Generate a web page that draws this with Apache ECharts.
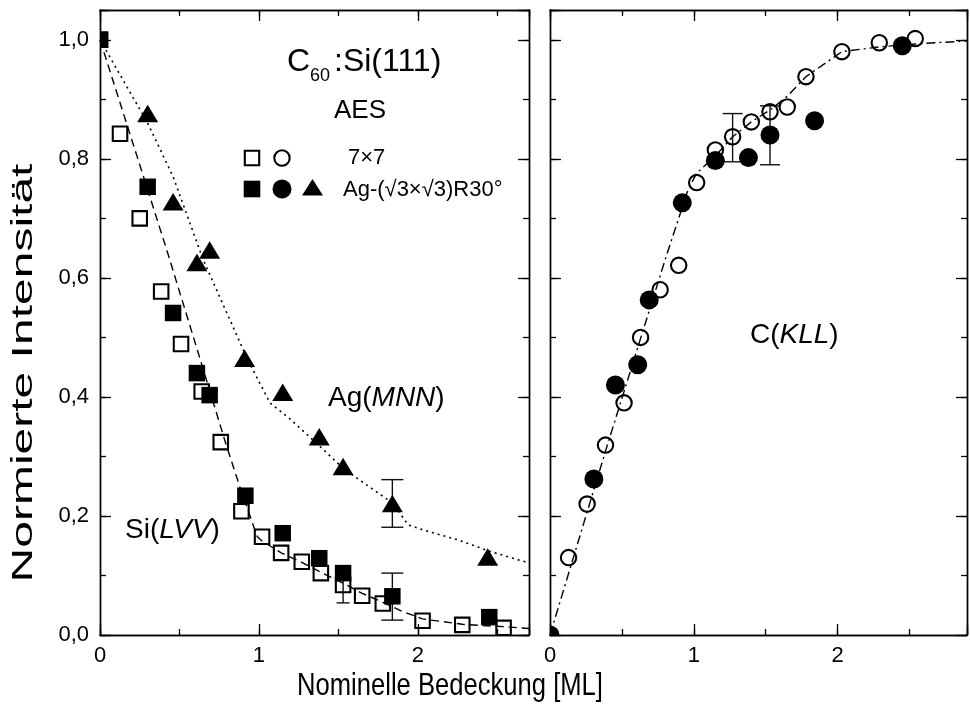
<!DOCTYPE html>
<html>
<head>
<meta charset="utf-8">
<script src="https://cdn.jsdelivr.net/npm/echarts@6/dist/echarts.min.js"></script>
<style>
  html, body { margin: 0; padding: 0; background: #fff; }
  #chart { width: 970px; height: 715px; }
</style>
</head>
<body>
<div id="chart"></div>
<script>
// ---- Si(LVV) signal, left panel ----
// 7x7 surface (open squares): [coverage ML, normalized intensity]
const si77 = [[0, 1.0], [0.126, 0.842], [0.25, 0.70], [0.385, 0.577], [0.51, 0.489], [0.64, 0.409],
  [0.76, 0.324], [0.89, 0.208], [1.02, 0.165], [1.14, 0.138], [1.27, 0.123], [1.39, 0.104],
  [1.53, 0.084], [1.65, 0.066], [1.78, 0.053], [2.03, 0.024], [2.28, 0.017], [2.54, 0.012]];
// Ag-(√3×√3)R30° surface (filled squares)
const siAg = [[0, 1.0], [0.30, 0.753], [0.46, 0.541], [0.61, 0.44], [0.69, 0.403], [0.915, 0.234],
  [1.15, 0.171], [1.38, 0.129], [1.53, 0.104], [1.84, 0.065], [2.45, 0.030]];
// guide curve through the Si(LVV) data (dashed)
const siFit = [[0, 1.0], [0.1, 0.916], [0.2, 0.832], [0.3, 0.748], [0.42, 0.647], [0.6, 0.49],
  [0.79, 0.323], [0.88, 0.249], [0.99, 0.165], [1.02, 0.158], [1.14, 0.138], [1.27, 0.122],
  [1.4, 0.104], [1.53, 0.087], [1.65, 0.07], [1.78, 0.055], [1.9, 0.04], [2.03, 0.027],
  [2.28, 0.018], [2.54, 0.014], [2.7, 0.011]];

// ---- Ag(MNN) signal, left panel (filled triangles) ----
const agMNN = [[0.30, 0.876], [0.46, 0.728], [0.61, 0.626], [0.69, 0.647], [0.91, 0.465],
  [1.15, 0.408], [1.38, 0.333], [1.53, 0.283], [1.84, 0.221], [2.44, 0.131]];
// guide curve (dotted)
const agFit = [[0, 1.0], [0.3, 0.86], [0.46, 0.77], [0.65, 0.63], [0.8, 0.54], [0.93, 0.462],
  [1.07, 0.39], [1.2, 0.362], [1.38, 0.318], [1.53, 0.28], [1.7, 0.248], [1.84, 0.222],
  [1.94, 0.185], [2.04, 0.176], [2.25, 0.16], [2.46, 0.14], [2.7, 0.121]];

// ---- C(KLL) signal, right panel ----
const c77 = [[0, 0], [0.129, 0.13], [0.258, 0.22], [0.386, 0.319], [0.515, 0.39], [0.63, 0.50],
  [0.766, 0.58], [0.895, 0.621], [1.02, 0.76], [1.15, 0.815], [1.27, 0.837], [1.40, 0.862],
  [1.53, 0.879], [1.65, 0.887], [1.78, 0.938], [2.03, 0.980], [2.29, 0.995], [2.54, 1.002]];
const cAg = [[0, 0], [0.305, 0.262], [0.455, 0.42], [0.61, 0.454], [0.69, 0.563], [0.92, 0.726],
  [1.15, 0.797], [1.38, 0.802], [1.53, 0.840], [1.84, 0.864], [2.45, 0.990]];
// guide curve (dash-dot)
const cFit = [[0, 0], [0.2, 0.16], [0.4, 0.32], [0.6, 0.475], [0.8, 0.63], [0.96, 0.748],
  [1.02, 0.776], [1.15, 0.805], [1.27, 0.837], [1.40, 0.862], [1.53, 0.882], [1.65, 0.905],
  [1.78, 0.938], [2.03, 0.98], [2.29, 0.988], [2.54, 0.993], [2.9, 0.998]];

// ---- error bars: [coverage, lower, upper] ----
const errSi77 = [[1.53, 0.054, 0.114]];
const errSiAg = [[1.84, 0.025, 0.104]];
const errAg = [[1.84, 0.181, 0.261]];
const errC77 = [[1.27, 0.795, 0.876]];
const errCAg = [[1.53, 0.790, 0.889]];

// ---- tick labels ----
const xTickLabels = ['0', '1', '2'];
const yTickLabels = ['0,0', '0,2', '0,4', '0,6', '0,8', '1,0'];

const FONT = '"Liberation Sans", Arial, Helvetica, sans-serif';
const chart = echarts.init(document.getElementById('chart'), null, { renderer: 'canvas' });

function pickLabel(list, step) {
  return function (v) {
    const i = Math.round(v / step);
    return (Math.abs(v - i * step) < 1e-6 && i >= 0 && i < list.length) ? list[i] : '';
  };
}

function xAxis(grid, pos, interval, len, max, labels) {
  return {
    type: 'value', gridIndex: grid, position: pos, min: 0, max: max, interval: interval,
    axisLine: { show: true, onZero: false, lineStyle: { color: '#000', width: 1.4 } },
    axisTick: { show: true, inside: true, length: len, lineStyle: { color: '#000', width: 1.3 } },
    axisLabel: labels ? {
      show: true, margin: 10, color: '#000', fontSize: 22, fontFamily: FONT,
      formatter: pickLabel(xTickLabels, 1)
    } : { show: false },
    splitLine: { show: false }
  };
}

function yAxis(grid, pos, interval, len, labels) {
  return {
    type: 'value', gridIndex: grid, position: pos, min: 0, max: 1.05, interval: interval,
    axisLine: { show: true, onZero: false, lineStyle: { color: '#000', width: 1.4 } },
    axisTick: { show: true, inside: true, length: len, lineStyle: { color: '#000', width: 1.3 } },
    axisLabel: labels ? {
      show: true, margin: 11, color: '#000', fontSize: 22, fontFamily: FONT,
      formatter: pickLabel(yTickLabels, 0.2)
    } : { show: false },
    splitLine: { show: false }
  };
}

const xAxes = [];
const yAxes = [];
[[0, 2.7, true], [1, 2.9, false]].forEach(function (g) {
  const gi = g[0], xmax = g[1], isLeft = g[2];
  xAxes.push(xAxis(gi, 'bottom', 1, 11, xmax, true));
  xAxes.push(xAxis(gi, 'bottom', 0.5, 6, xmax, false));
  xAxes.push(xAxis(gi, 'top', 1, 11, xmax, false));
  xAxes.push(xAxis(gi, 'top', 0.5, 6, xmax, false));
  yAxes.push(yAxis(gi, 'left', 0.2, 11, isLeft));
  yAxes.push(yAxis(gi, 'left', 0.1, 6, false));
  yAxes.push(yAxis(gi, 'right', 0.2, 11, false));
  yAxes.push(yAxis(gi, 'right', 0.1, 6, false));
});

// marker drawn through the axis scale; clipped to the plot frame
function markers(data, shape, filled, panel) {
  return {
    type: 'custom', xAxisIndex: panel * 4, yAxisIndex: panel * 4, clip: true,
    z: filled ? 5 : 4, data: data, encode: { x: 0, y: 1 },
    renderItem: function (params, api) {
      const p = api.coord([api.value(0), api.value(1)]);
      const style = filled ? { fill: '#000', stroke: null }
                           : { fill: 'none', stroke: '#000', lineWidth: 2.1 };
      if (shape === 'square') {
        const s = filled ? 16.5 : 14.5;
        return { type: 'rect', shape: { x: p[0] - s / 2, y: p[1] - s / 2, width: s, height: s }, style: style };
      }
      if (shape === 'circle') {
        const r = filled ? 9.5 : 7.7;
        return { type: 'circle', shape: { cx: p[0], cy: p[1], r: r }, style: style };
      }
      const w = 21, h = 17.5;
      return { type: 'polygon', shape: { points: [[p[0], p[1] - h / 2], [p[0] + w / 2, p[1] + h / 2], [p[0] - w / 2, p[1] + h / 2]] }, style: style };
    }
  };
}

function errorBars(data, panel, cap) {
  return {
    type: 'custom', xAxisIndex: panel * 4, yAxisIndex: panel * 4, clip: true, z: 3,
    data: data, encode: { x: 0, y: [1, 2] },
    renderItem: function (params, api) {
      const lo = api.coord([api.value(0), api.value(1)]);
      const hi = api.coord([api.value(0), api.value(2)]);
      const st = { stroke: '#111', lineWidth: 1.4 };
      return {
        type: 'group', children: [
          { type: 'line', shape: { x1: lo[0], y1: lo[1], x2: hi[0], y2: hi[1] }, style: st },
          { type: 'line', shape: { x1: lo[0] - cap / 2, y1: lo[1], x2: lo[0] + cap / 2, y2: lo[1] }, style: st },
          { type: 'line', shape: { x1: hi[0] - cap / 2, y1: hi[1], x2: hi[0] + cap / 2, y2: hi[1] }, style: st }
        ]
      };
    }
  };
}

function guide(data, panel, dash, width) {
  return {
    type: 'line', xAxisIndex: panel * 4, yAxisIndex: panel * 4, data: data,
    showSymbol: false, symbol: 'none', smooth: false, clip: true, z: 2, silent: true,
    lineStyle: { color: '#000', width: width, type: dash, cap: 'butt' }
  };
}

function txt(x, y, text, size, align, extra) {
  return {
    type: 'text', x: x, y: y, z: 10,
    style: Object.assign({
      text: text, fontSize: size, fontFamily: FONT, fill: '#000',
      align: align || 'left', verticalAlign: 'middle'
    }, extra || {})
  };
}

function italicRich(size) {
  return {
    n: { fontSize: size, fontFamily: FONT, fill: '#000' },
    i: { fontSize: size, fontFamily: FONT, fontStyle: 'italic', fill: '#000' }
  };
}

// vertical axis title, drawn tall and narrow
const yTitle = txt(24, 373, 'Normierte Intensität', 30, 'center');
yTitle.rotation = Math.PI / 2;
yTitle.scaleX = 1.6;

// horizontal axis title, condensed
const xTitle = txt(450, 686, 'Nominelle Bedeckung [ML]', 32, 'center');
xTitle.scaleX = 0.8;

const graphics = [
  // heading with subscript
  txt(287, 62, 'C', 32),
  txt(310, 76.5, '60', 18),
  txt(334, 62, ':Si(111)', 32),
  txt(360, 111, 'AES', 26, 'center'),
  // key symbols
  { type: 'rect', z: 10, shape: { x: 252 - 7.2, y: 158 - 7.2, width: 14.4, height: 14.4 }, style: { fill: 'none', stroke: '#000', lineWidth: 2.1 } },
  { type: 'circle', z: 10, shape: { cx: 282, cy: 158, r: 7.7 }, style: { fill: 'none', stroke: '#000', lineWidth: 2.1 } },
  { type: 'rect', z: 10, shape: { x: 252 - 8.3, y: 189 - 8.3, width: 16.6, height: 16.6 }, style: { fill: '#000' } },
  { type: 'circle', z: 10, shape: { cx: 282, cy: 189, r: 9.5 }, style: { fill: '#000' } },
  { type: 'polygon', z: 10, shape: { points: [[312.5, 179], [323, 195.5], [302, 195.5]] }, style: { fill: '#000' } },
  txt(348, 158, '7×7', 22),
  txt(343, 190, 'Ag-(√3×√3)R30°', 22),
  // signal names
  txt(328, 398, '{n|Ag(}{i|MNN}{n|)}', 28, 'left', { rich: italicRich(28) }),
  txt(125, 530, '{n|Si(}{i|LVV}{n|)}', 28, 'left', { rich: italicRich(28) }),
  txt(750, 335, '{n|C(}{i|KLL}{n|)}', 28, 'left', { rich: italicRich(28) }),
  yTitle,
  xTitle
];

const option = {
  animation: false,
  backgroundColor: '#fff',
  grid: [
    { left: 100, top: 10, width: 429, height: 625, containLabel: false },
    { left: 550, top: 10, width: 429, height: 625, containLabel: false }
  ],
  xAxis: xAxes,
  yAxis: yAxes,
  series: [
    guide(siFit, 0, [8, 5], 1.4),
    guide(agFit, 0, [2, 4], 1.6),
    guide(cFit, 1, [9, 4, 2, 4], 1.4),
    errorBars(errSi77, 0, 13),
    errorBars(errSiAg, 0, 22),
    errorBars(errAg, 0, 22),
    errorBars(errC77, 1, 20),
    errorBars(errCAg, 1, 20),
    markers(si77, 'square', false, 0),
    markers(siAg, 'square', true, 0),
    markers(agMNN, 'triangle', true, 0),
    markers(c77, 'circle', false, 1),
    markers(cAg, 'circle', true, 1)
  ],
  graphic: graphics
};

chart.setOption(option);
</script>
</body>
</html>
